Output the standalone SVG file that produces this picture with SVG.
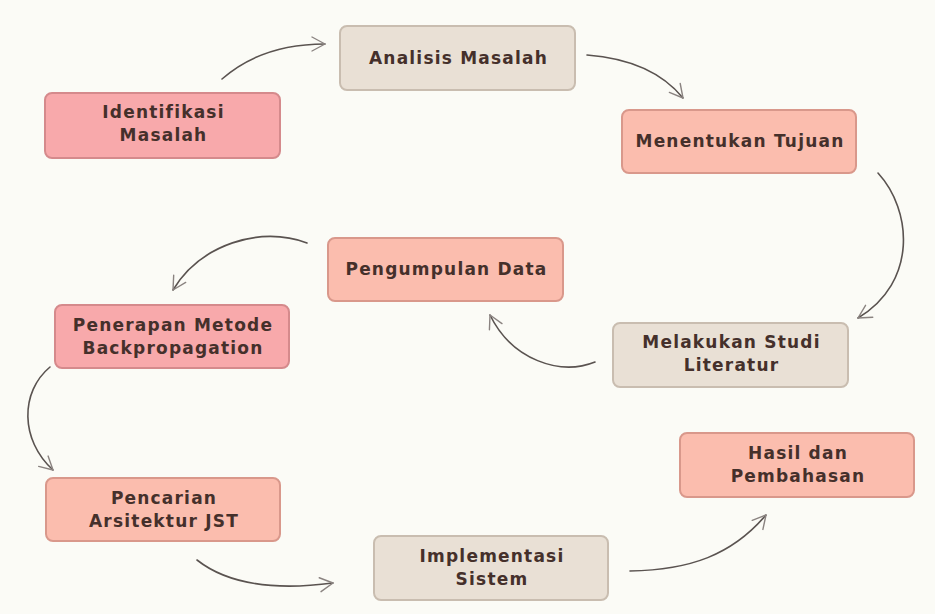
<svg xmlns="http://www.w3.org/2000/svg" width="935" height="614" viewBox="0 0 935 614">
<defs>
<style>
.bg{fill:#fbfbf6}
.n rect{stroke-width:2}
.pink rect{fill:#f8a9ab;stroke:#d58a8c}
.salmon rect{fill:#fbbdae;stroke:#d9988b}
.beige rect{fill:#e9e0d5;stroke:#c9bdb0}
.n text{font-family:"DejaVu Sans","Open Sans",sans-serif;font-weight:bold;font-size:17px;letter-spacing:1.2px;fill:#45302b;text-anchor:middle}
.c path{fill:none;stroke:#5a5350;stroke-width:1.6;stroke-linecap:round}
</style>
<marker id="ah" markerUnits="userSpaceOnUse" markerWidth="30" markerHeight="30" viewBox="-15 -15 30 30" refX="0" refY="0" orient="auto">
<path d="M-13,-7 L0,0 L-13,7" fill="none" stroke="#8a8380" stroke-width="1.4" stroke-linecap="round" stroke-linejoin="round"/>
</marker>
</defs>
<rect class="bg" x="0" y="0" width="935" height="614"/>
<g id="connectors" class="c">
<path d="M222,79 Q262,44 325,44" marker-end="url(#ah)"/>
<path d="M587,55 Q652,60 683,98" marker-end="url(#ah)"/>
<path d="M878,173 C912,210 918,282 858,318" marker-end="url(#ah)"/>
<path d="M595,362 C560,376 512,360 490,315" marker-end="url(#ah)"/>
<path d="M307,243 C260,225 200,245 173,290" marker-end="url(#ah)"/>
<path d="M50,367 C20,392 20,440 53,470" marker-end="url(#ah)"/>
<path d="M197,560 C230,586 280,590 333,583" marker-end="url(#ah)"/>
<path d="M630,571 C690,570 732,555 766,515" marker-end="url(#ah)"/>
</g>
<g id="identifikasi" class="n pink">
<rect x="45" y="93" width="235" height="65" rx="7"/>
<text x="163.5" y="118">Identifikasi</text>
<text x="163.5" y="141">Masalah</text>
</g>
<g id="analisis" class="n beige">
<rect x="340" y="26" width="235" height="64" rx="7"/>
<text x="458.5" y="63.5">Analisis Masalah</text>
</g>
<g id="menentukan" class="n salmon">
<rect x="622" y="110" width="234" height="63" rx="7"/>
<text x="740" y="147">Menentukan Tujuan</text>
</g>
<g id="melakukan" class="n beige">
<rect x="613" y="323" width="235" height="64" rx="7"/>
<text x="731.5" y="348">Melakukan Studi</text>
<text x="731.5" y="371">Literatur</text>
</g>
<g id="pengumpulan" class="n salmon">
<rect x="328" y="238" width="235" height="63" rx="7"/>
<text x="446.5" y="275">Pengumpulan Data</text>
</g>
<g id="penerapan" class="n pink">
<rect x="55" y="305" width="234" height="63" rx="7"/>
<text x="173" y="331">Penerapan Metode</text>
<text x="173" y="354">Backpropagation</text>
</g>
<g id="pencarian" class="n salmon">
<rect x="46" y="478" width="234" height="63" rx="7"/>
<text x="164" y="504">Pencarian</text>
<text x="164" y="527">Arsitektur JST</text>
</g>
<g id="implementasi" class="n beige">
<rect x="374" y="536" width="234" height="64" rx="7"/>
<text x="492" y="562">Implementasi</text>
<text x="492" y="585">Sistem</text>
</g>
<g id="hasil" class="n salmon">
<rect x="680" y="433" width="234" height="64" rx="7"/>
<text x="798" y="459">Hasil dan</text>
<text x="798" y="482">Pembahasan</text>
</g>
</svg>
